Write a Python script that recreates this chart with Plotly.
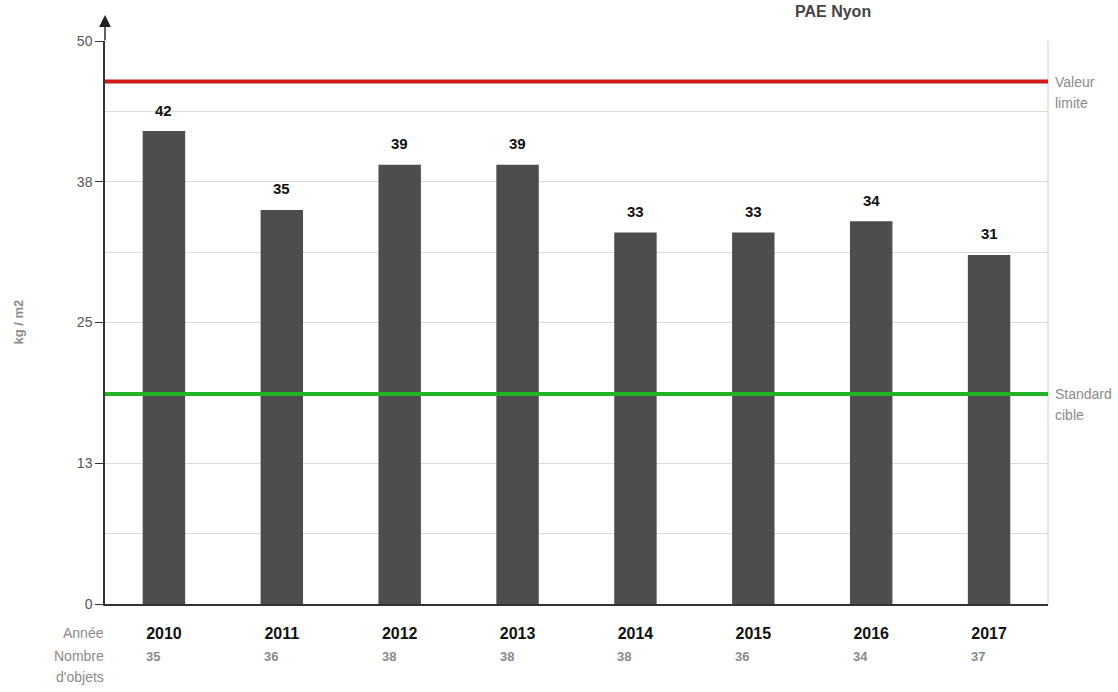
import plotly.graph_objects as go

# Annual values (kg / m2) per year, with object counts
years = ["2010", "2011", "2012", "2013", "2014", "2015", "2016", "2017"]
values = [42, 35, 39, 39, 33, 33, 34, 31]
counts = [35, 36, 38, 38, 38, 36, 34, 37]

limit_value = 46.4      # Valeur limite
target_value = 18.65    # Standard cible

y_tickvals = [0, 12.5, 25, 37.5, 50]
y_ticktext = ["0", "13", "25", "38", "50"]

FONT = "Liberation Sans, Arial, sans-serif"
GREY = "#8a8a8a"
LINE_H = 21  # spacing between stacked label lines, px

fig = go.Figure()

fig.add_trace(go.Bar(
    x=list(range(len(years))),
    y=values,
    width=0.36,
    marker=dict(color="#4d4d4d", line=dict(width=0)),
    hoverinfo="skip",
))

# Reference lines
fig.add_shape(type="line", xref="paper", yref="y", x0=0, x1=1,
              y0=limit_value, y1=limit_value,
              line=dict(color="#d11a1a", width=4), layer="above")
fig.add_shape(type="line", xref="paper", yref="y", x0=0, x1=1,
              y0=target_value, y1=target_value,
              line=dict(color="#22b422", width=4), layer="above")

# Right border of the plot area
fig.add_shape(type="line", xref="paper", yref="paper", x0=1, x1=1, y0=0, y1=1,
              line=dict(color="#d0d0d0", width=1), layer="below")


def side_label(lines, y_val):
    out = []
    for k, t in enumerate(lines):
        out.append(dict(text=t, x=1, xref="paper", y=y_val, yref="y",
                        xanchor="left", yanchor="middle", xshift=5,
                        yshift=-k * LINE_H, showarrow=False,
                        font=dict(family=FONT, size=14, color=GREY)))
    return out


annotations = []
annotations += side_label(["Valeur", "limite"], limit_value)
annotations += side_label(["Standard", "cible"], target_value)

annotations += [
    # arrow on top of the y axis
    dict(text="", x=0, xref="paper", y=1, yref="paper", yshift=26,
         showarrow=True, ax=0, ay=27, axref="pixel", ayref="pixel",
         arrowhead=2, arrowsize=1.7, arrowwidth=1.4, arrowcolor="#222222"),
    dict(text="<b>kg / m2</b>", x=0, xref="paper", y=0.5, yref="paper",
         xanchor="center", yanchor="middle",
         xshift=-87, textangle=-90, showarrow=False,
         font=dict(family=FONT, size=13, color=GREY)),
    dict(text="<b>PAE Nyon</b>", x=0.772, xref="paper", y=1, yref="paper",
         xanchor="center", yanchor="top", yshift=40, showarrow=False,
         font=dict(family=FONT, size=16, color="#444444")),
    dict(text="Année", x=0, xref="paper", y=0, yref="paper",
         xanchor="right", yanchor="middle", yshift=-29, xshift=1,
         showarrow=False, font=dict(family=FONT, size=14, color=GREY)),
    dict(text="Nombre", x=0, xref="paper", y=0, yref="paper",
         xanchor="right", yanchor="middle", yshift=-52, xshift=1,
         showarrow=False, font=dict(family=FONT, size=14, color=GREY)),
    dict(text="d'objets", x=0, xref="paper", y=0, yref="paper",
         xanchor="right", yanchor="middle", yshift=-52 - LINE_H, xshift=1,
         showarrow=False, font=dict(family=FONT, size=14, color=GREY)),
]

# value labels above bars, and object counts under the year row
for i, (v, c) in enumerate(zip(values, counts)):
    annotations.append(dict(
        text=f"<b>{v}</b>", x=i, xref="x", y=v, yref="y",
        xanchor="center", yanchor="middle", yshift=21,
        showarrow=False, font=dict(family=FONT, size=15, color="#111111")))
    annotations.append(dict(
        text=f"<b>{c}</b>", x=i, xref="x", y=0, yref="paper",
        xanchor="left", yanchor="middle", xshift=-20, yshift=-52,
        showarrow=False, font=dict(family=FONT, size=13, color=GREY)))

fig.update_layout(
    width=1118, height=692,
    margin=dict(l=105, r=70, t=41, b=88),
    paper_bgcolor="white", plot_bgcolor="white",
    showlegend=False,
    font=dict(family=FONT),
    annotations=annotations,
)

fig.update_xaxes(
    range=[-0.5, len(years) - 0.5],
    tickmode="array",
    tickvals=list(range(len(years))),
    ticktext=[f"<b>{y}</b>" for y in years],
    tickfont=dict(family=FONT, size=16, color="#111111"),
    ticks="", showgrid=False, zeroline=False,
    showline=True, linecolor="#333333", linewidth=1.5,
    ticklabelstandoff=14,
)

fig.update_yaxes(
    range=[0, 50],
    tickmode="array",
    tickvals=y_tickvals,
    ticktext=y_ticktext,
    tickfont=dict(family=FONT, size=14, color="#555555"),
    ticks="outside", ticklen=8, tickcolor="#333333", tickwidth=1,
    ticklabelstandoff=0,
    showgrid=True, gridcolor="#dcdcdc", gridwidth=1,
    minor=dict(tick0=0, dtick=6.25, showgrid=True, gridcolor="#dcdcdc",
               gridwidth=1, ticks=""),
    showline=True, linecolor="#333333", linewidth=1.5,
    zeroline=False,
)

fig.write_html("out.html")
